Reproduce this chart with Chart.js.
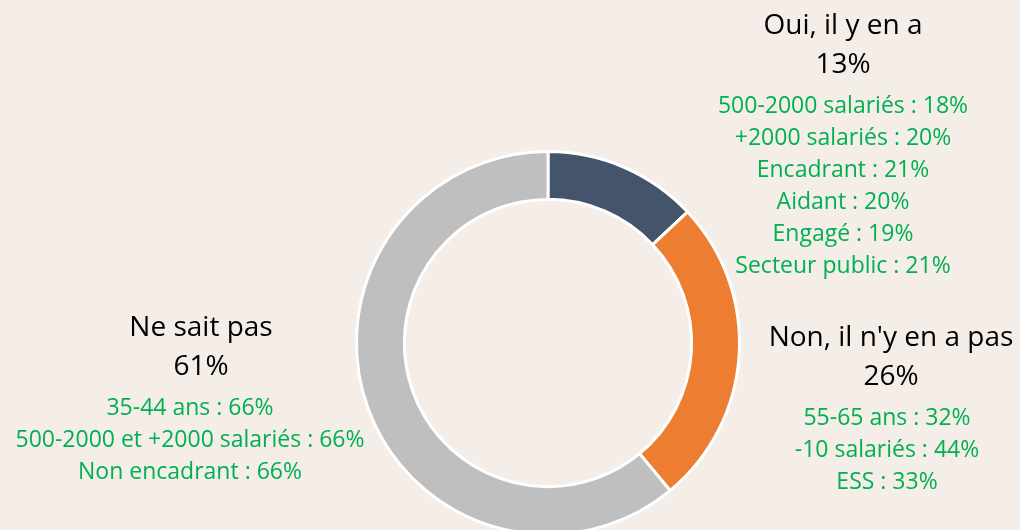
<!DOCTYPE html>
<html><head><meta charset="utf-8">
<script src="https://cdn.jsdelivr.net/npm/chart.js@4.4.1/dist/chart.umd.min.js"></script>
<style>
html,body{margin:0;padding:0;background:#F5EEE8;overflow:hidden;width:1020px;height:530px;}
#wrap{position:absolute;left:0;top:0;width:1020px;height:600px;}
</style></head><body>
<div id="wrap"><canvas id="c" width="1020" height="600"></canvas></div>
<script>
const categories = ["Oui, il y en a", "Non, il n'y en a pas", "Ne sait pas"];
const values = [13, 26, 61];
const colors = ["#44546A", "#ED7D31", "#BFBFBF"];
const detailsOui = ["500-2000 salariés : 18%", "+2000 salariés : 20%", "Encadrant : 21%", "Aidant : 20%", "Engagé : 19%", "Secteur public : 21%"];
const detailsNon = ["55-65 ans : 32%", "-10 salariés : 44%", "ESS : 33%"];
const detailsNsp = ["35-44 ans : 66%", "500-2000 et +2000 salariés : 66%", "Non encadrant : 66%"];
const details = [detailsOui, detailsNon, detailsNsp];

// label block placement (style only)
const blocks = [
  {x: 843, y: 26, gx: 843},
  {x: 891, y: 338, gx: 887},
  {x: 201, y: 328, gx: 190}
];

const labelPlugin = {
  id: 'blockLabels',
  afterDraw(chart) {
    const ctx = chart.ctx;
    ctx.save();
    ctx.textAlign = 'center';
    ctx.textBaseline = 'middle';
    categories.forEach((cat, i) => {
      const b = blocks[i];
      ctx.fillStyle = '#000000';
      ctx.font = '28px "Open Sans"';
      ctx.fillText(cat, b.x, b.y);
      ctx.fillText(values[i] + '%', b.x, b.y + 39);
      ctx.fillStyle = '#00B050';
      ctx.font = '23px "Open Sans"';
      details[i].forEach((t, j) => {
        ctx.fillText(t, b.gx, b.y + 80 + j * 32);
      });
    });
    ctx.restore();
  }
};

new Chart(document.getElementById('c'), {
  type: 'doughnut',
  data: {
    labels: categories,
    datasets: [{
      data: values,
      backgroundColor: colors,
      borderColor: '#FFFFFF',
      borderWidth: 3,
      hoverOffset: 0
    }]
  },
  options: {
    responsive: false,
    animation: false,
    cutout: '75%',
    layout: {padding: {left: 355, right: 279, top: 150, bottom: 64}},
    plugins: {legend: {display: false}, tooltip: {enabled: false}}
  },
  plugins: [labelPlugin]
});
</script>
</body></html>
